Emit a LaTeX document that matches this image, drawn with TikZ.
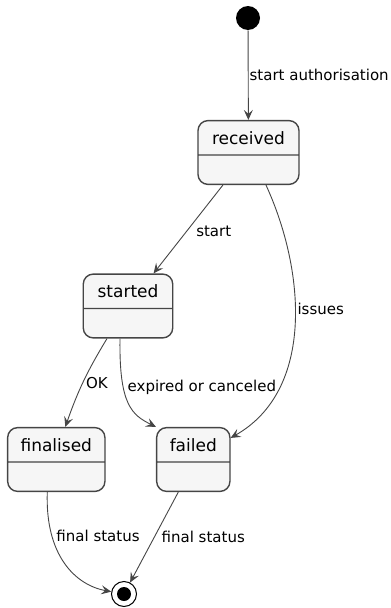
\documentclass[tikz,border=0pt]{standalone}
\usepackage{fontspec}
\setmainfont{DejaVu Sans}
\usetikzlibrary{arrows.meta,shapes.multipart}

\definecolor{statefill}{HTML}{F6F6F6}
\definecolor{lineclr}{HTML}{454545}
\newcommand{\statefont}{\fontsize{17}{20}\selectfont}
\newcommand{\labelfont}{\fontsize{15}{18}\selectfont}
% state name on top, empty lower compartment
\newcommand{\statetext}[1]{\rule{0pt}{23pt}#1\rule[-10pt]{0pt}{10pt}\nodepart{two}\rule{0pt}{28pt}}

\begin{document}
\begin{tikzpicture}[x=1pt,y=-1pt,->,>={Stealth[length=10pt,width=9pt,inset=4pt]},
	line width=0.9pt,
	state/.style={rectangle split,rectangle split parts=2,draw=lineclr,line width=1.4pt,
		rounded corners=10pt,fill=statefill,inner xsep=4pt,inner ysep=0pt,font=\statefont},
	init/.style={circle,fill=black,minimum size=24pt,inner sep=0pt},
	final/.style={circle,draw=black,line width=1pt,fill=white,minimum size=25pt,inner sep=0pt,
		path picture={\fill[black] (path picture bounding box.center) circle (7pt);}},
	lbl/.style={font=\labelfont,anchor=west,inner sep=0pt,text=black}]
	
	\useasboundingbox (0,0) rectangle (391,608);
	
	\node[init] (start) at (248,18) {};
	\node[state,minimum width=101pt] (rec) at (248.5,152.5) {\statetext{received}};
	\node[state,minimum width=89.5pt] (st) at (128,306) {\statetext{started}};
	\node[state,minimum width=97.3pt] (fin) at (56.3,459.5) {\statetext{finalised}};
	\node[state,minimum width=73.3pt] (fail) at (193.3,459.5) {\statetext{failed}};
	\node[final] (end) at (124,594) {};
	
	\path[lineclr]
	(start) edge node[lbl,xshift=1pt] {start authorisation} (rec)
	(rec) edge node[lbl,pos=.52,xshift=9pt] {start} (st)
	([xshift=-21pt]st.south) edge[bend right=6] node[lbl,pos=.52,xshift=3pt] {OK} ([xshift=9pt]fin.north)
	([xshift=-15pt]fail.south) edge node[lbl,pos=.5,xshift=7pt] {final status} (end);
	
	\draw[lineclr] ([xshift=17.5pt]rec.south) .. controls (305,270) and (315,390) .. ([yshift=-11pt]fail.north east)
	node[lbl,pos=.44,xshift=2pt] {issues};
	\draw[lineclr] ([xshift=-8pt]st.south) .. controls (119,405) and (132,415) .. (fail.north west)
	node[lbl,pos=.32,xshift=4pt] {expired or canceled};
	\draw[lineclr] ([xshift=-9pt]fin.south) .. controls (45,555) and (75,585) .. (end)
	node[lbl,pos=.27,xshift=4pt] {final status};
\end{tikzpicture}
\end{document}
